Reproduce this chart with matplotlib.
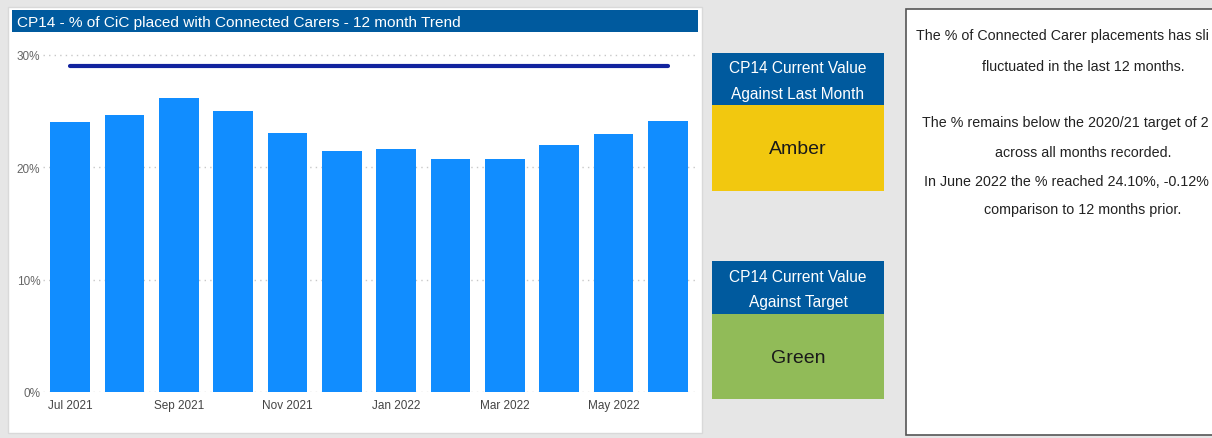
import matplotlib.pyplot as plt
from matplotlib.patches import Rectangle

months = ["Jul 2021", "Aug 2021", "Sep 2021", "Oct 2021", "Nov 2021", "Dec 2021",
          "Jan 2022", "Feb 2022", "Mar 2022", "Apr 2022", "May 2022", "Jun 2022"]
pct = [24.0, 24.65, 26.1, 25.0, 23.0, 21.4, 21.65, 20.7, 20.7, 22.0, 22.9, 24.1]
target = [29.0] * 12
yticks = [0, 10, 20, 30]

W, H = 1212, 439
narrow = ["Liberation Sans Narrow", "Liberation Sans", "DejaVu Sans"]
body = ["Liberation Sans", "DejaVu Sans"]

fig = plt.figure(figsize=(W / 100, H / 100), dpi=100)
fig.patch.set_facecolor("#e6e6e6")


def box(x0, y0, x1, y1, **kw):
    # pixel coords (top-left origin) -> figure rectangle
    r = Rectangle((x0 / W, 1 - y1 / H), (x1 - x0) / W, (y1 - y0) / H,
                  transform=fig.transFigure, zorder=0, **kw)
    fig.add_artist(r)
    return r


def txt(x, y, s, **kw):
    return fig.text(x / W, 1 - y / H, s, **kw)


# chart panel
box(8, 8, 702, 434, facecolor="white", edgecolor="#d9d9d9", lw=1)
box(12, 11, 698, 33, facecolor="#005a9e", edgecolor="none")
txt(17, 23, "CP14 - % of CiC placed with Connected Carers - 12 month Trend",
    color="white", fontsize=11.1, family=narrow, va="center", ha="left")

# bar chart
ax = fig.add_axes([43 / W, 1 - 393 / H, 652 / W, (393 - 50) / H])
ax.set_zorder(5)
x = range(len(months))
ax.bar(x, pct, width=0.73, color="#118dff", zorder=2)
ax.plot(x, target, color="#12239e", lw=3, solid_capstyle="round", zorder=3)
ax.set_xlim(-0.5, 11.5)
ax.set_ylim(0, 30.5)
ax.set_yticks(yticks)
ax.set_yticklabels([f"{v}%" for v in yticks], family=narrow, fontsize=8.5, color="#666666")
ax.set_xticks(list(x)[::2])
ax.set_xticklabels(months[::2], family=narrow, fontsize=8.5, color="#444444")
ax.tick_params(axis="y", length=0, pad=2)
ax.tick_params(axis="x", length=0, pad=5)
ax.grid(axis="y", color="#c8c8c8", linestyle=(0, (1, 3)), lw=1, zorder=0)
for s in ax.spines.values():
    s.set_visible(False)
ax.set_facecolor("none")

# RAG cards
cards = [(54, 106, 192, ["CP14 Current Value", "Against Last Month"], "Amber", "#f2c80f"),
         (262, 315, 400, ["CP14 Current Value", "Against Target"], "Green", "#91bb58")]
for top, mid, bot, head, label, col in cards:
    box(712, top, 884, mid, facecolor="#005a9e", edgecolor="none")
    box(712, mid, 884, bot, facecolor=col, edgecolor="none")
    txt(798, top + 15, head[0], color="white", fontsize=11.2, family=narrow, ha="center", va="center")
    txt(798, top + 41, head[1], color="white", fontsize=11.2, family=narrow, ha="center", va="center")
    txt(798, (mid + bot) / 2 + 1, label, color="#1a1a1a", fontsize=14, family=narrow, ha="center", va="center")

# commentary box (text runs past the right edge in the original)
box(906, 10, 1230, 436, facecolor="white", edgecolor="#555555", lw=1.2)
centered = [(67, "fluctuated in the last 12 months."),
            (153, "across all months recorded."),
            (210, "comparison to 12 months prior.")]
clipped = [(36, "The % of Connected Carer placements has sli"),
           (123, "The % remains below the 2020/21 target of 2"),
           (182, "In June 2022 the % reached 24.10%, -0.12%")]
for yy, s in centered:
    txt(1083, yy, s, color="#222222", fontsize=10.3, family=body, ha="center", va="center")
for yy, s in clipped:
    txt(1209, yy, s, color="#222222", fontsize=10.3, family=body, ha="right", va="center")

fig.savefig("out.png", dpi=100, facecolor=fig.get_facecolor())
